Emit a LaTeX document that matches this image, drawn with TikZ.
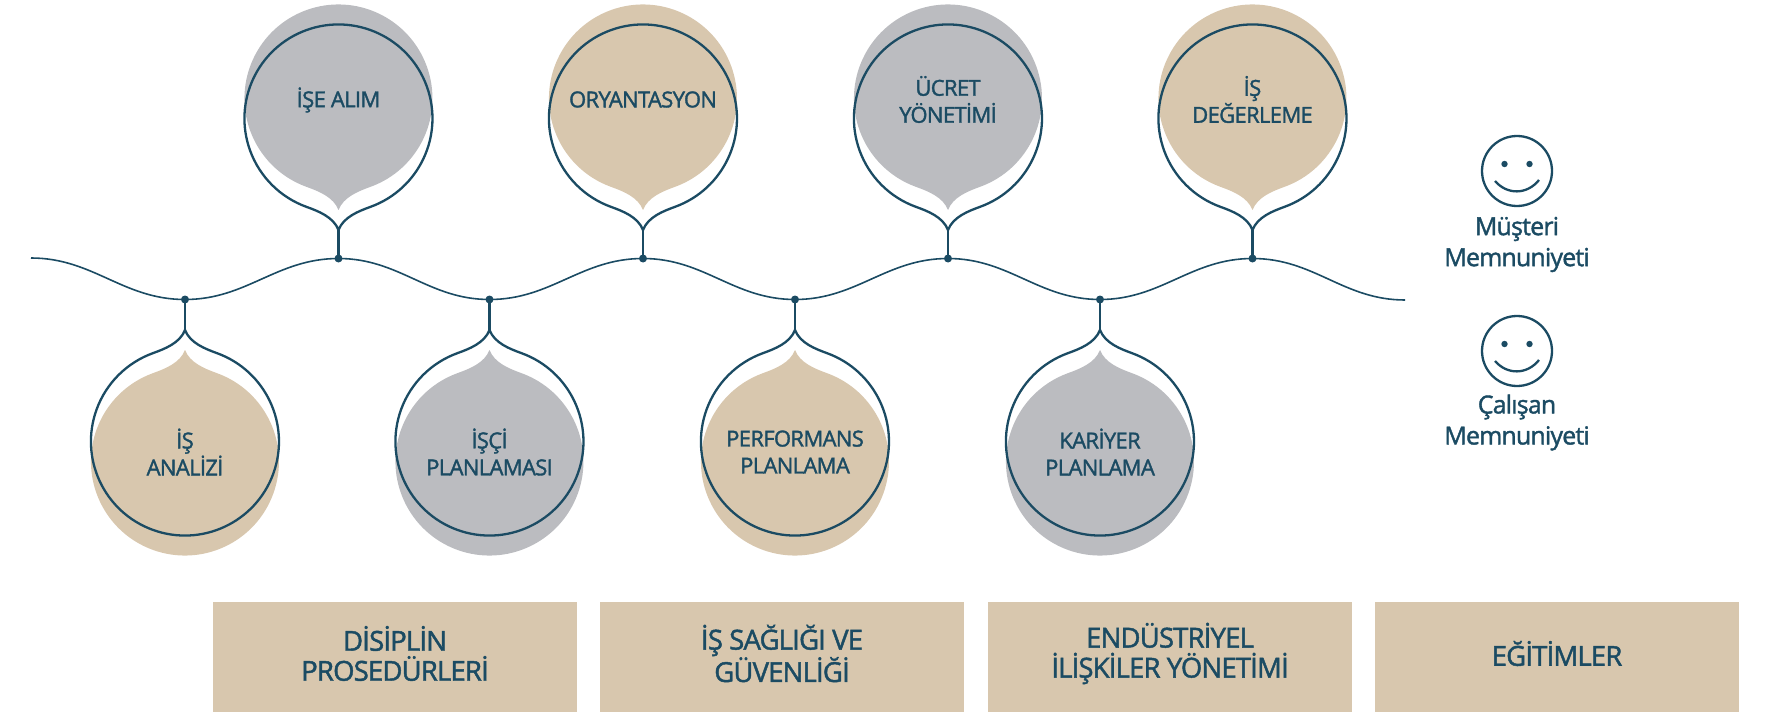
\documentclass[tikz,border=0pt]{standalone}
\usepackage{fontspec}
\usetikzlibrary{calc}
\setmainfont{Open Sans}[FakeBold=1.6,LetterSpace=-3]
\definecolor{navy}{HTML}{1B4B63}
\definecolor{tan}{HTML}{D8C7AE}
\definecolor{greyb}{HTML}{BBBCC0}
\newcommand{\dropshape}{(32.1,88.3) arc[start angle=70,end angle=-250,radius=94] .. controls (-20,92.7) and (-5,98.5) .. (0,111.5) .. controls (5,98.5) and (20,92.7) .. cycle}
\newcommand{\drop}[6]{% name, x, y, local yscale, fill colour, label y
  \begin{scope}[shift={(#2,#3)},yscale=#4]
    \fill[#5,yshift=-20pt] \dropshape;
    \draw[outl] \dropshape;
    \coordinate (#1tip) at (0,111.5);
  \end{scope}
  \node[lab] (#1) at (#2,#6) {\csname txt#1\endcsname};
}
\newcommand{\txta}{İŞ\\ANALİZİ}
\newcommand{\txtb}{İŞE ALIM}
\newcommand{\txtc}{İŞÇİ\\PLANLAMASI}
\newcommand{\txtd}{ORYANTASYON}
\newcommand{\txte}{PERFORMANS\\PLANLAMA}
\newcommand{\txtf}{ÜCRET\\YÖNETİMİ}
\newcommand{\txtg}{KARİYER\\PLANLAMA}
\newcommand{\txth}{İŞ\\DEĞERLEME}
\tikzset{
  outl/.style={draw=navy,line width=2.3pt},
  lab/.style={text=navy,font=\fontsize{22}{27}\selectfont,align=center,inner sep=0pt},
  wavepart/.style={out=0,in=180},
  dotn/.style={circle,fill=navy,inner sep=0pt,minimum size=8pt},
  wave/.style={draw=navy,line width=1.6pt},
  stem/.style={draw=navy,line width=2.3pt},
  box/.style={fill=tan,inner sep=0pt,minimum width=364pt,minimum height=110pt},
  boxlab/.style={text=navy,align=center,inner sep=0pt,font=\fontsize{27.5}{30}\selectfont},
  side/.style={text=navy,align=center,inner sep=0pt,font=\fontsize{24.8}{31}\selectfont},
  face/.style={circle,draw=navy,line width=2.3pt,minimum size=70pt,inner sep=0pt},
}
\begin{document}
\begin{tikzpicture}[x=1pt,y=1pt,yscale=-1]
\useasboundingbox (0,0) rectangle (1766,714);
% bubbles
\drop{b}{338.5}{118.5}{1}{greyb}{100}
\drop{d}{643}{118.5}{1}{tan}{99.5}
\drop{f}{948}{118.5}{1}{greyb}{99.5}
\drop{h}{1252.5}{118.5}{1}{tan}{99.5}
\drop{a}{185}{441.5}{-1}{tan}{452}
\drop{c}{489.5}{441.5}{-1}{greyb}{452}
\drop{e}{795}{441.5}{-1}{tan}{452}
\drop{g}{1100}{441.5}{-1}{greyb}{452}
% wave
\coordinate (w0) at (31,258);
\coordinate (w9) at (1405,300);
\node[dotn] (p1) at (185,299.5) {};
\node[dotn] (p2) at (338.5,258.5) {};
\node[dotn] (p3) at (489.5,299.5) {};
\node[dotn] (p4) at (643,258.5) {};
\node[dotn] (p5) at (795,299.5) {};
\node[dotn] (p6) at (948,258.5) {};
\node[dotn] (p7) at (1100,299.5) {};
\node[dotn] (p8) at (1252.5,258.5) {};
\draw[wave] (w0) to[wavepart] (p1.center) to[wavepart] (p2.center) to[wavepart] (p3.center) to[wavepart] (p4.center) to[wavepart] (p5.center) to[wavepart] (p6.center) to[wavepart] (p7.center) to[wavepart] (p8.center) to[wavepart] (w9);
% stems
\draw[stem] (p1.center) -- (atip);
\draw[stem] (p2.center) -- (btip);
\draw[stem] (p3.center) -- (ctip);
\draw[stem] (p4.center) -- (dtip);
\draw[stem] (p5.center) -- (etip);
\draw[stem] (p6.center) -- (ftip);
\draw[stem] (p7.center) -- (gtip);
\draw[stem] (p8.center) -- (htip);
% smileys
\foreach \n/\yy in {s1/171,s2/351}{
  \node[face] (\n) at (1517,\yy) {};
  \fill[navy] ($(\n)+(-12.5,-7)$) circle (3.2);
  \fill[navy] ($(\n)+(12.5,-7)$) circle (3.2);
  \draw[navy,line width=2.3pt] ($(\n)+(-22,10)$) .. controls ($(\n)+(-10,24)$) and ($(\n)+(10,24)$) .. ($(\n)+(22,9)$);
}
\node[side] (t1) at (1517,244.5) {Müşteri\\Memnuniyeti};
\node[side] (t2) at (1517,422.5) {Çalışan\\Memnuniyeti};
% boxes
\node[box] (r1) at (395,656.5) {};
\node[box] (r2) at (782,656.5) {};
\node[box] (r3) at (1170,656.5) {};
\node[box] (r4) at (1557,656.5) {};
\node[boxlab] (l1) at ($(r1)+(0,-3)$) {DİSİPLİN\\PROSEDÜRLERİ};
\node[boxlab] (l2) at ($(r2)+(0,-3)$) {İŞ SAĞLIĞI VE\\GÜVENLİĞİ};
\node[boxlab] (l3) at ($(r3)+(0,-3)$) {ENDÜSTRİYEL\\İLİŞKİLER YÖNETİMİ};
\node[boxlab] (l4) at ($(r4)+(0,-3)$) {EĞİTİMLER};
\end{tikzpicture}
\end{document}
